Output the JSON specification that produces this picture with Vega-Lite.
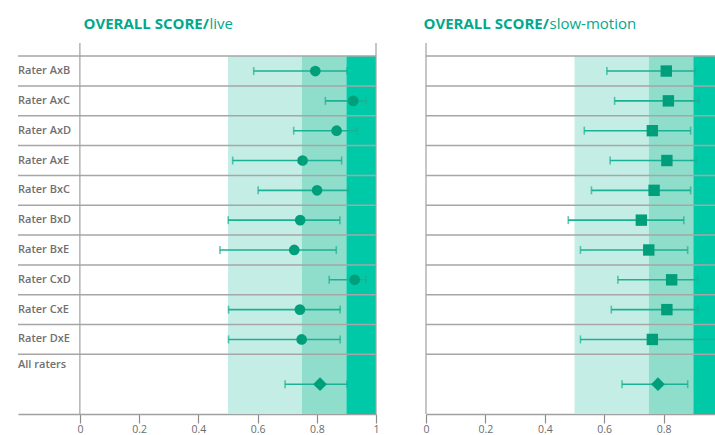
{
  "$schema": "https://vega.github.io/schema/vega-lite/v6.json",
  "padding": {"left": 17, "top": 16, "right": 0, "bottom": 0},
  "autosize": {"type": "pad"},
  "bounds": "flush",
  "spacing": 50,
  "config": {
    "view": {"stroke": null},
    "font": "Open Sans",
    "axisX": {
      "labelExpr": "round(datum.value*100) % 20 == 0 ? format(datum.value, '~g') : ''",
      "labelFlush": false,
      "labelFontSize": 10.5,
      "labelColor": "#6b6b6b",
      "labelPadding": 1,
      "tickSize": 9,
      "tickWidth": 1.2,
      "domainColor": "#a0a0a0",
      "domainWidth": 1.5,
      "grid": false,
      "titleAlign": "left",
      "titleBaseline": "alphabetic",
      "titleFontSize": 15,
      "titleFontWeight": "normal",
      "titleColor": "#00a98b"
    },
    "axisY": {
      "titleAngle": 0,
      "titleAlign": "left",
      "titleBaseline": "alphabetic",
      "titleFontSize": 15,
      "titleFontWeight": "bold",
      "titleColor": "#00a98b",
      "domain": false,
      "ticks": false,
      "labels": false,
      "grid": false
    }
  },
  "datasets": {
    "scores": [
      {"view": "live", "rater": "Rater AxB", "row": 1, "kind": "pair", "est": 0.795, "lo": 0.587, "hi": 0.902},
      {"view": "live", "rater": "Rater AxC", "row": 2, "kind": "pair", "est": 0.923, "lo": 0.829, "hi": 0.967},
      {"view": "live", "rater": "Rater AxD", "row": 3, "kind": "pair", "est": 0.867, "lo": 0.722, "hi": 0.936},
      {"view": "live", "rater": "Rater AxE", "row": 4, "kind": "pair", "est": 0.752, "lo": 0.516, "hi": 0.884},
      {"view": "live", "rater": "Rater BxC", "row": 5, "kind": "pair", "est": 0.801, "lo": 0.602, "hi": 0.908},
      {"view": "live", "rater": "Rater BxD", "row": 6, "kind": "pair", "est": 0.744, "lo": 0.501, "hi": 0.878},
      {"view": "live", "rater": "Rater BxE", "row": 7, "kind": "pair", "est": 0.724, "lo": 0.473, "hi": 0.866},
      {"view": "live", "rater": "Rater CxD", "row": 8, "kind": "pair", "est": 0.928, "lo": 0.842, "hi": 0.967},
      {"view": "live", "rater": "Rater CxE", "row": 9, "kind": "pair", "est": 0.743, "lo": 0.502, "hi": 0.879},
      {"view": "live", "rater": "Rater DxE", "row": 10, "kind": "pair", "est": 0.749, "lo": 0.502, "hi": 0.879},
      {"view": "live", "rater": "All raters", "row": 11.5, "kind": "all", "est": 0.811, "lo": 0.693, "hi": 0.902},
      {"view": "slow", "rater": "Rater AxB", "row": 1, "kind": "pair", "est": 0.809, "lo": 0.609, "hi": 0.907},
      {"view": "slow", "rater": "Rater AxC", "row": 2, "kind": "pair", "est": 0.816, "lo": 0.635, "hi": 0.919},
      {"view": "slow", "rater": "Rater AxD", "row": 3, "kind": "pair", "est": 0.762, "lo": 0.533, "hi": 0.891},
      {"view": "slow", "rater": "Rater AxE", "row": 4, "kind": "pair", "est": 0.811, "lo": 0.62, "hi": 0.91},
      {"view": "slow", "rater": "Rater BxC", "row": 5, "kind": "pair", "est": 0.768, "lo": 0.557, "hi": 0.891},
      {"view": "slow", "rater": "Rater BxD", "row": 6, "kind": "pair", "est": 0.725, "lo": 0.479, "hi": 0.868},
      {"view": "slow", "rater": "Rater BxE", "row": 7, "kind": "pair", "est": 0.75, "lo": 0.52, "hi": 0.881},
      {"view": "slow", "rater": "Rater CxD", "row": 8, "kind": "pair", "est": 0.827, "lo": 0.646, "hi": 0.915},
      {"view": "slow", "rater": "Rater CxE", "row": 9, "kind": "pair", "est": 0.811, "lo": 0.624, "hi": 0.915},
      {"view": "slow", "rater": "Rater DxE", "row": 10, "kind": "pair", "est": 0.762, "lo": 0.52, "hi": 1.0},
      {"view": "slow", "rater": "All raters", "row": 11.5, "kind": "all", "est": 0.781, "lo": 0.66, "hi": 0.881}
    ],
    "bands": [
      {"level": "moderate", "lo": 0.5, "hi": 0.75},
      {"level": "good", "lo": 0.75, "hi": 0.9},
      {"level": "excellent", "lo": 0.9, "hi": 1.0}
    ],
    "lines": [
      {"y": 0.5}, {"y": 1.5}, {"y": 2.5}, {"y": 3.5}, {"y": 4.5}, {"y": 5.5},
      {"y": 6.5}, {"y": 7.5}, {"y": 8.5}, {"y": 9.5}, {"y": 10.5}
    ],
    "vlinesLeft": [{"x": 0}, {"x": 1}],
    "vlinesRight": [{"x": 0}]
  },
  "hconcat": [
    {
      "width": 358,
      "height": 371,
      "layer": [
        {
          "data": {"name": "bands"},
          "mark": {"type": "rect"},
          "encoding": {
            "x": {
              "field": "lo", "type": "quantitative",
              "scale": {"domain": [-0.209, 1], "nice": false, "zero": false},
              "axis": {
                "values": [0, 0.05, 0.1, 0.15, 0.2, 0.25, 0.3, 0.35, 0.4, 0.45, 0.5, 0.55, 0.6, 0.65, 0.7, 0.75, 0.8, 0.85, 0.9, 0.95, 1],
                "tickColor": {"condition": {"test": "round(datum.value*100) % 20 == 0", "value": "#8c8c8c"}, "value": "#c4c4c4"},
                "title": "live",
                "titleX": 191,
                "titleY": -386
              }
            },
            "x2": {"field": "hi"},
            "y": {
              "datum": 0.5, "type": "quantitative",
              "scale": {"domain": [0.06, 12.5], "reverse": true, "nice": false, "zero": false},
              "axis": {"title": "OVERALL SCORE/", "titleX": 65, "titleY": -15}
            },
            "y2": {"datum": 12.5},
            "color": {"field": "level", "type": "nominal", "scale": {"domain": ["moderate", "good", "excellent"], "range": ["#c4eee5", "#8fdecb", "#00c9a7"]}, "legend": null}
          }
        },
        {
          "data": {"name": "lines"},
          "mark": {"type": "rule", "color": "#a6a6a6", "strokeWidth": 1.5},
          "encoding": {"y": {"field": "y", "type": "quantitative"}}
        },
        {
          "data": {"name": "vlinesLeft"},
          "mark": {"type": "rule", "color": "#a0a0a0", "strokeWidth": 1.2},
          "encoding": {"x": {"field": "x", "type": "quantitative"}}
        },
        {
          "data": {"name": "scores"},
          "transform": [{"filter": "datum.view == 'live'"}],
          "mark": {"type": "rule", "color": "#1ab194", "strokeWidth": 1.6},
          "encoding": {
            "x": {"field": "lo", "type": "quantitative"},
            "x2": {"field": "hi"},
            "y": {"field": "row", "type": "quantitative"}
          }
        },
        {
          "data": {"name": "scores"},
          "transform": [{"filter": "datum.view == 'live'"}],
          "mark": {"type": "tick", "orient": "vertical", "color": "#1ab194", "size": 8, "thickness": 1.6},
          "encoding": {
            "x": {"field": "lo", "type": "quantitative"},
            "y": {"field": "row", "type": "quantitative"}
          }
        },
        {
          "data": {"name": "scores"},
          "transform": [{"filter": "datum.view == 'live'"}],
          "mark": {"type": "tick", "orient": "vertical", "color": "#1ab194", "size": 8, "thickness": 1.6},
          "encoding": {
            "x": {"field": "hi", "type": "quantitative"},
            "y": {"field": "row", "type": "quantitative"}
          }
        },
        {
          "data": {"name": "scores"},
          "transform": [{"filter": "datum.view == 'live' && datum.kind == 'pair'"}],
          "mark": {"type": "point", "shape": "circle", "filled": true, "opacity": 1, "size": 115, "color": "#009f7b"},
          "encoding": {
            "x": {"field": "est", "type": "quantitative"},
            "y": {"field": "row", "type": "quantitative"}
          }
        },
        {
          "data": {"name": "scores"},
          "transform": [{"filter": "datum.view == 'live' && datum.kind == 'all'"}],
          "mark": {"type": "point", "shape": "diamond", "filled": true, "opacity": 1, "size": 190, "color": "#009f7b"},
          "encoding": {
            "x": {"field": "est", "type": "quantitative"},
            "y": {"field": "row", "type": "quantitative"}
          }
        },
        {
          "data": {"name": "scores"},
          "transform": [{"filter": "datum.view == 'live' && datum.kind == 'pair'"}],
          "mark": {"type": "text", "align": "left", "baseline": "middle", "fontSize": 11, "fontWeight": 600, "color": "#707070"},
          "encoding": {
            "x": {"datum": -0.209, "type": "quantitative"},
            "y": {"field": "row", "type": "quantitative"},
            "text": {"field": "rater"}
          }
        },
        {
          "data": {"name": "scores"},
          "transform": [{"filter": "datum.view == 'live' && datum.kind == 'all'"}],
          "mark": {"type": "text", "align": "left", "baseline": "middle", "dy": -19, "fontSize": 11, "fontWeight": 600, "color": "#707070"},
          "encoding": {
            "x": {"datum": -0.209, "type": "quantitative"},
            "y": {"field": "row", "type": "quantitative"},
            "text": {"field": "rater"}
          }
        }
      ]
    },
    {
      "width": 289,
      "height": 371,
      "layer": [
        {
          "data": {"name": "bands"},
          "mark": {"type": "rect", "clip": true},
          "encoding": {
            "x": {
              "field": "lo", "type": "quantitative",
              "scale": {"domain": [0, 0.973], "nice": false, "zero": false},
              "axis": {
                "values": [0, 0.05, 0.1, 0.15, 0.2, 0.25, 0.3, 0.35, 0.4, 0.45, 0.5, 0.55, 0.6, 0.65, 0.7, 0.75, 0.8, 0.85, 0.9, 0.95],
                "tickColor": {"condition": {"test": "round(datum.value*100) % 20 == 0", "value": "#8c8c8c"}, "value": "#c4c4c4"},
                "title": "slow-motion",
                "titleX": 123,
                "titleY": -386
              }
            },
            "x2": {"field": "hi"},
            "y": {
              "datum": 0.5, "type": "quantitative",
              "scale": {"domain": [0.06, 12.5], "reverse": true, "nice": false, "zero": false},
              "axis": {"title": "OVERALL SCORE/", "titleX": -3, "titleY": -15}
            },
            "y2": {"datum": 12.5},
            "color": {"field": "level", "type": "nominal", "scale": {"domain": ["moderate", "good", "excellent"], "range": ["#c4eee5", "#8fdecb", "#00c9a7"]}, "legend": null}
          }
        },
        {
          "data": {"name": "lines"},
          "mark": {"type": "rule", "color": "#a6a6a6", "strokeWidth": 1.5},
          "encoding": {"y": {"field": "y", "type": "quantitative"}}
        },
        {
          "data": {"name": "vlinesRight"},
          "mark": {"type": "rule", "color": "#a0a0a0", "strokeWidth": 1.2},
          "encoding": {"x": {"field": "x", "type": "quantitative"}}
        },
        {
          "data": {"name": "scores"},
          "transform": [{"filter": "datum.view == 'slow'"}],
          "mark": {"type": "rule", "color": "#1ab194", "strokeWidth": 1.6, "clip": true},
          "encoding": {
            "x": {"field": "lo", "type": "quantitative"},
            "x2": {"field": "hi"},
            "y": {"field": "row", "type": "quantitative"}
          }
        },
        {
          "data": {"name": "scores"},
          "transform": [{"filter": "datum.view == 'slow'"}],
          "mark": {"type": "tick", "orient": "vertical", "color": "#1ab194", "size": 8, "thickness": 1.6, "clip": true},
          "encoding": {
            "x": {"field": "lo", "type": "quantitative"},
            "y": {"field": "row", "type": "quantitative"}
          }
        },
        {
          "data": {"name": "scores"},
          "transform": [{"filter": "datum.view == 'slow'"}],
          "mark": {"type": "tick", "orient": "vertical", "color": "#1ab194", "size": 8, "thickness": 1.6, "clip": true},
          "encoding": {
            "x": {"field": "hi", "type": "quantitative"},
            "y": {"field": "row", "type": "quantitative"}
          }
        },
        {
          "data": {"name": "scores"},
          "transform": [{"filter": "datum.view == 'slow' && datum.kind == 'pair'"}],
          "mark": {"type": "point", "shape": "square", "filled": true, "opacity": 1, "size": 130, "color": "#009f7b", "clip": true},
          "encoding": {
            "x": {"field": "est", "type": "quantitative"},
            "y": {"field": "row", "type": "quantitative"}
          }
        },
        {
          "data": {"name": "scores"},
          "transform": [{"filter": "datum.view == 'slow' && datum.kind == 'all'"}],
          "mark": {"type": "point", "shape": "diamond", "filled": true, "opacity": 1, "size": 190, "color": "#009f7b", "clip": true},
          "encoding": {
            "x": {"field": "est", "type": "quantitative"},
            "y": {"field": "row", "type": "quantitative"}
          }
        }
      ]
    }
  ]
}
